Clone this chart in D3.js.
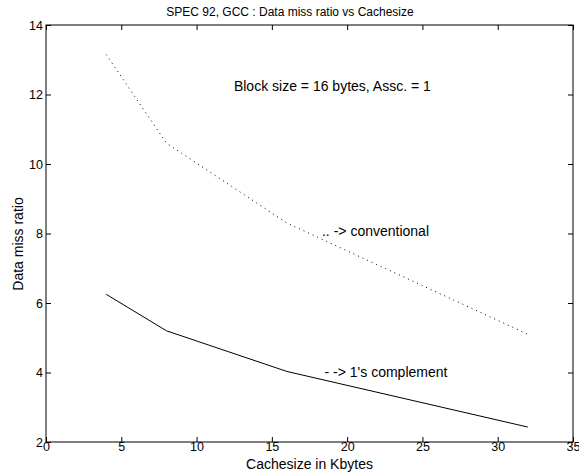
<!DOCTYPE html>
<html>
<head>
<meta charset="utf-8">
<script src="https://cdn.jsdelivr.net/npm/d3@7"></script>
<style>
  body { margin: 0; background: #fff; }
  text { font-family: "Liberation Sans", Arial, sans-serif; fill: #000; }
</style>
</head>
<body>
<div id="wrapper"></div>
<script>
// cache size (Kbytes)
let cacheSizes = [4, 8, 16, 32]
// data miss ratio
let conventional = [13.15, 10.6, 8.3, 5.1]
let onesComplement = [6.25, 5.2, 4.03, 2.43]

let xTicks = [0, 5, 10, 15, 20, 25, 30, 35]
let yTicks = [2, 4, 6, 8, 10, 12, 14]

function drawMissRatioChart() {
    let dimensions = {
        width: 579,
        height: 473,
        margin: { top: 25, right: 6, bottom: 31, left: 46 }
    }
    let w = dimensions.width - dimensions.margin.left - dimensions.margin.right
    let h = dimensions.height - dimensions.margin.top - dimensions.margin.bottom

    let svg = d3.select("#wrapper")
        .append("svg")
        .attr("width", dimensions.width)
        .attr("height", dimensions.height)

    let g = svg.append("g")
        .attr("transform", "translate(" + dimensions.margin.left + "," + dimensions.margin.top + ")")

    let x = d3.scaleLinear().domain([0, 35]).range([0, w])
    let y = d3.scaleLinear().domain([2, 14]).range([h, 0])

    // axes, ticks pointing inward like matlab
    let tl = 5
    g.append("g")
        .attr("transform", `translate(0,${h})`)
        .call(d3.axisBottom(x).tickValues(xTicks).tickSizeInner(-tl).tickSizeOuter(0).tickPadding(0))
    g.append("g")
        .call(d3.axisTop(x).tickValues(xTicks).tickSizeInner(-tl).tickSizeOuter(0).tickFormat(""))
    g.append("g")
        .call(d3.axisLeft(y).tickValues(yTicks).tickSizeInner(-tl).tickSizeOuter(0).tickPadding(3))
    g.append("g")
        .attr("transform", `translate(${w},0)`)
        .call(d3.axisRight(y).tickValues(yTicks).tickSizeInner(-tl).tickSizeOuter(0).tickFormat(""))

    g.selectAll(".domain").remove()
    g.selectAll(".tick line").attr("stroke", "#000")
    g.selectAll(".tick text").style("font-size", "12.5px")

    g.append("rect")
        .attr("width", w)
        .attr("height", h)
        .attr("fill", "none")
        .attr("stroke", "#000")
        .attr("stroke-width", 1)

    let line = d3.line()
        .x((d, i) => x(cacheSizes[i]))
        .y(d => y(d))

    g.append("path")
        .datum(conventional)
        .attr("d", line)
        .attr("fill", "none")
        .attr("stroke", "#000")
        .attr("stroke-width", 1)
        .attr("stroke-dasharray", "1,4")

    g.append("path")
        .datum(onesComplement)
        .attr("d", line)
        .attr("fill", "none")
        .attr("stroke", "#000")
        .attr("stroke-width", 1)

    // title + labels
    svg.append("text")
        .attr("x", 290)
        .attr("y", 16)
        .attr("text-anchor", "middle")
        .style("font-size", "12px")
        .text("SPEC 92, GCC : Data miss ratio vs Cachesize")

    svg.append("text")
        .attr("x", dimensions.margin.left + w / 2)
        .attr("y", 469)
        .attr("text-anchor", "middle")
        .style("font-size", "14px")
        .text("Cachesize in Kbytes")

    svg.append("text")
        .attr("transform", `translate(23,244) rotate(-90)`)
        .attr("text-anchor", "middle")
        .style("font-size", "14px")
        .text("Data miss ratio")

    // annotations
    g.append("text")
        .attr("x", x(12.48))
        .attr("y", y(12.1))
        .style("font-size", "14px")
        .text("Block size = 16 bytes, Assc. = 1")
    g.append("text")
        .attr("x", x(18.33))
        .attr("y", y(7.93))
        .style("font-size", "14px")
        .text(".. -> conventional")
    g.append("text")
        .attr("x", x(18.5))
        .attr("y", y(3.88))
        .style("font-size", "14px")
        .text("- -> 1's complement")
}

drawMissRatioChart()
</script>
</body>
</html>
